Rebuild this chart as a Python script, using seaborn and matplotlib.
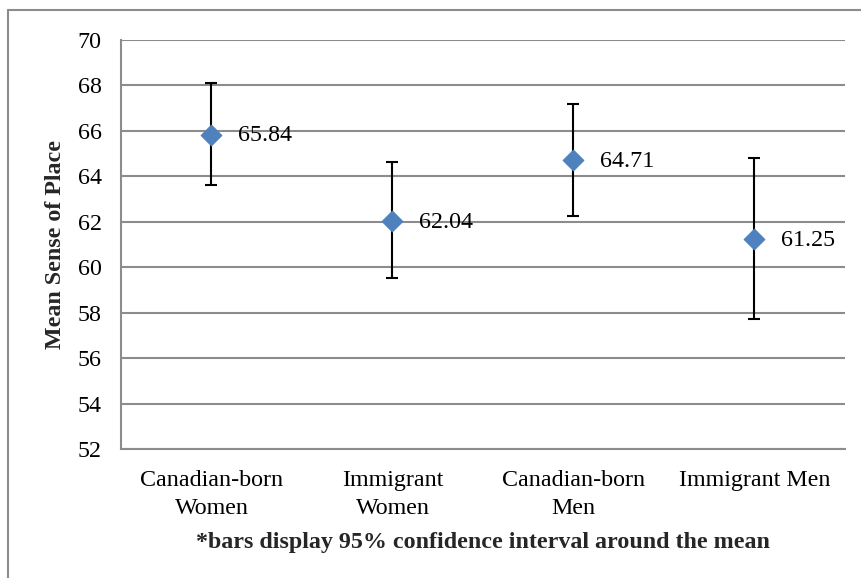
import pandas as pd
import matplotlib
matplotlib.use("Agg")
import matplotlib.pyplot as plt
import seaborn as sns

groups = ["Canadian-born\nWomen", "Immigrant\nWomen", "Canadian-born\nMen", "Immigrant Men"]
means = [65.84, 62.04, 64.71, 61.25]
ci_low = [63.62, 59.52, 62.27, 57.71]
ci_high = [68.10, 64.62, 67.17, 64.80]

df = pd.DataFrame({"group": groups, "mean": means, "lo": ci_low, "hi": ci_high})

sns.set_theme(style="white")
plt.rcParams['font.family'] = ['Liberation Serif', 'DejaVu Serif']

FS = 17.3

fig = plt.figure(figsize=(8.62, 5.78), dpi=100)
# outer chart frame (only top/left visible in the original crop)
fig.add_artist(plt.Line2D([0.0093, 1.0], [0.983, 0.983], color="#8c8c8c", lw=1.5))
fig.add_artist(plt.Line2D([0.0093, 0.0093], [0.0, 0.983], color="#8c8c8c", lw=1.5))

ax = fig.add_axes([121 / 862, 1 - 449 / 578, (845 - 121) / 862, (449 - 40) / 578])

x = list(range(len(groups)))
ax.errorbar(x, df["mean"],
            yerr=[df["mean"] - df["lo"], df["hi"] - df["mean"]],
            fmt="none", ecolor="black", elinewidth=1.5, capsize=4.5, capthick=1.5, zorder=3)
sns.scatterplot(data=df, x="group", y="mean", marker="D", s=110, color="#4F81BD",
                edgecolor="#4F81BD", ax=ax, zorder=4, legend=False)

for i, m in enumerate(means):
    ax.annotate(f"{m:.2f}", (i, m), xytext=(19, -1), textcoords="offset points",
                ha="left", va="center", fontsize=FS, color="black")

ax.set_ylim(52, 70)
ax.set_yticks(range(52, 71, 2))
ax.set_xlim(-0.5, 3.5)
ax.yaxis.grid(True, color="#8c8c8c", lw=1.5)
ax.set_axisbelow(True)
for s in ["top", "right"]:
    ax.spines[s].set_visible(False)
for s in ["left", "bottom"]:
    ax.spines[s].set_color("#8c8c8c")
    ax.spines[s].set_linewidth(1.5)
ax.tick_params(axis="y", length=0, labelsize=FS, colors="black", pad=14)
ax.tick_params(axis="x", length=0, labelsize=FS, colors="black", pad=15)
for lbl in ax.get_xticklabels():
    lbl.set_linespacing(1.45)
ax.set_ylabel("Mean Sense of Place", fontsize=FS, fontweight="bold", labelpad=8)
ax.set_xlabel("*bars display 95% confidence interval around the mean",
              fontsize=FS, fontweight="bold", labelpad=9)

fig.savefig("out.png", dpi=100)
